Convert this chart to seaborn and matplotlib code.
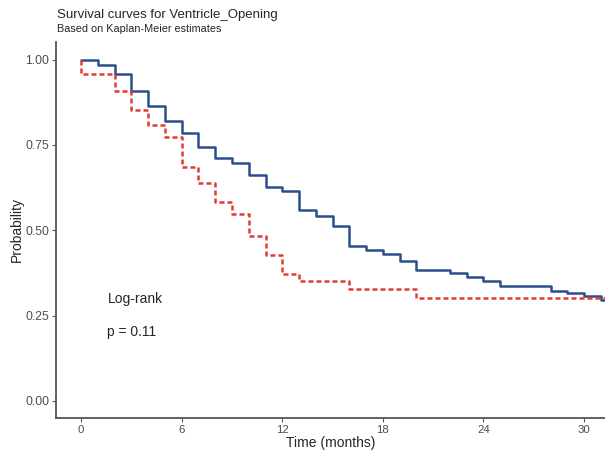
import matplotlib.pyplot as plt
import numpy as np
import pandas as pd
import seaborn as sns

# Kaplan-Meier step values (time in months, survival prob)
blue_time = [0, 1, 2, 3, 4, 5, 6, 7, 8, 9, 10, 11, 12, 13, 14, 15, 16, 17, 18, 19,
             20, 22, 23, 24, 25, 28, 29, 30, 31, 32]
blue_surv = [1.0, 0.984, 0.959, 0.908, 0.864, 0.821, 0.784, 0.745, 0.711, 0.696,
             0.662, 0.628, 0.616, 0.560, 0.542, 0.513, 0.453, 0.441, 0.430, 0.409,
             0.385, 0.375, 0.363, 0.350, 0.338, 0.323, 0.315, 0.307, 0.297, 0.297]
red_time = [0, 0, 2, 3, 4, 5, 6, 7, 8, 9, 10, 11, 12, 13, 16, 20, 32]
red_surv = [1.0, 0.959, 0.908, 0.852, 0.808, 0.774, 0.685, 0.638, 0.584, 0.548,
            0.482, 0.428, 0.373, 0.350, 0.328, 0.302, 0.302]

df = pd.concat([
    pd.DataFrame({'time': blue_time, 'surv': blue_surv, 'group': 'A'}),
    pd.DataFrame({'time': red_time, 'surv': red_surv, 'group': 'B'}),
], ignore_index=True)

sns.set_style('white')
plt.rcParams['font.family'] = ['Liberation Sans', 'DejaVu Sans']

fig = plt.figure(figsize=(6.05, 4.53), dpi=100)
ax = fig.add_axes([56 / 605, 35 / 453, 549 / 605, 375.5 / 453])

sns.lineplot(data=df, x='time', y='surv', hue='group', style='group',
             palette={'A': '#2A4F8F', 'B': '#E23B35'},
             dashes={'A': '', 'B': (2, 1.2)},
             estimator=None, sort=False, drawstyle='steps-post',
             linewidth=1.8, legend=False, ax=ax)

ax.set_xlim(-1.5, 31.25)
ax.set_ylim(-0.05, 1.05)
ax.set_xticks([0, 6, 12, 18, 24, 30])
ax.set_yticks([0, 0.25, 0.5, 0.75, 1.0])
ax.set_yticklabels(['0.00', '0.25', '0.50', '0.75', '1.00'])

for s in ['top', 'right']:
    ax.spines[s].set_visible(False)
for s in ['left', 'bottom']:
    ax.spines[s].set_color('#555555')
    ax.spines[s].set_linewidth(1.3)
ax.tick_params(axis='both', length=3, width=0.8, color='#555555',
               labelcolor='#4D4D4D', pad=2, left=True, bottom=True)
ax.tick_params(axis='y', labelsize=8.8)
ax.tick_params(axis='x', labelsize=8.2)

ax.set_xlabel('Time (months)', fontsize=10, labelpad=1)
ax.set_ylabel('')
fig.text(17 / 605, 1 - 230 / 453, 'Probability', rotation=90,
         ha='center', va='center', fontsize=10)

fig.text(57 / 605, 1 - 18 / 453, 'Survival curves for Ventricle_Opening',
         fontsize=9.5, va='baseline')
fig.text(57 / 605, 1 - 32 / 453, 'Based on Kaplan-Meier estimates',
         fontsize=7.8, va='baseline')

ax.text(1.57, 0.298, 'Log-rank', fontsize=10, va='center', ha='left')
ax.text(1.57, 0.203, 'p = 0.11', fontsize=10, va='center', ha='left')

plt.savefig('out.png', dpi=100)
